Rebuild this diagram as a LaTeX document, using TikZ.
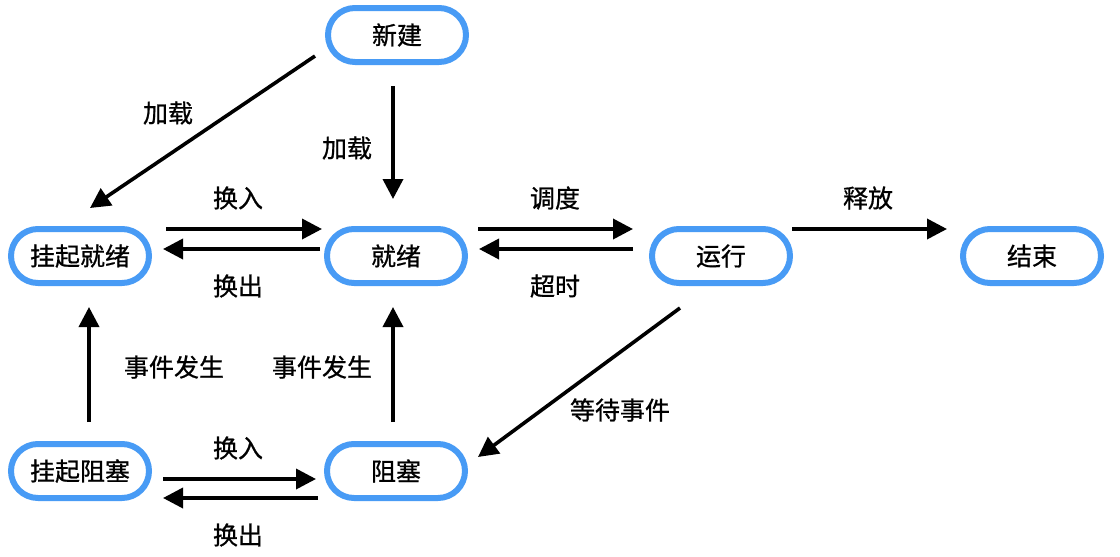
\documentclass[tikz,border=0pt]{standalone}
\usepackage{fontspec}
\newfontfamily\cjk[FakeBold=0.8]{Noto Sans CJK SC}
\usetikzlibrary{arrows.meta}
\definecolor{stateblue}{RGB}{72,155,245}

\begin{document}
\begin{tikzpicture}
  [x=1pt,y=-1pt,
   every node/.style={font=\cjk\fontsize{25}{29}\selectfont},
   state/.style={draw=stateblue,line width=6pt,fill=white,rounded corners=27pt,
                 minimum width=138pt,minimum height=54pt},
   arr/.style={line width=3.6pt,-{Triangle[length=20pt,width=20pt]}}]
  \useasboundingbox (0,0) rectangle (1120,557);

  \node[state] (xj)   at (397,35)  {新建};
  \node[state] (gqjx) at (80,256)  {挂起就绪};
  \node[state] (jx)   at (396,256) {就绪};
  \node[state] (yx)   at (721,256) {运行};
  \node[state] (js)   at (1032,256) {结束};
  \node[state] (gqzs) at (80,471)  {挂起阻塞};
  \node[state] (zs)   at (396,471) {阻塞};

  % labels
  \foreach \n/\t/\x/\y in {l1/加载/168/113, l2/加载/347/148, l3/换入/238/198,
      l4/换出/238/286, l5/调度/555/198, l6/超时/555/286, l7/释放/868/198,
      l8/事件发生/174/367, l9/事件发生/322/367, l10/等待事件/620/410,
      l11/换入/238/448, l12/换出/238/535}
    \node (\n) at (\x,\y) {\t};

  \draw[arr] ([xshift=-4pt,yshift=-21pt]xj.south) -- ([xshift=-3pt,yshift=27pt]jx.north);
  \draw[arr] ([xshift=-10pt,yshift=-21pt]xj.west) -- ([xshift=10pt,yshift=18pt]gqjx.north);
  \draw[arr] ([xshift=14pt,yshift=27pt]gqjx.east) -- ([xshift=-2pt,yshift=27pt]jx.west);
  \draw[arr] ([xshift=-4pt,yshift=7pt]jx.west) -- ([xshift=11pt,yshift=7pt]gqjx.east);
  \draw[arr] ([xshift=10pt,yshift=27pt]jx.east) -- ([xshift=-16pt,yshift=27pt]yx.west);
  \draw[arr] ([xshift=-16pt,yshift=7pt]yx.west) -- ([xshift=11pt,yshift=7pt]jx.east);
  \draw[arr] ([xshift=-1pt,yshift=27pt]yx.east) -- ([xshift=-13pt,yshift=27pt]js.west);
  \draw[arr] ([xshift=9pt,yshift=19pt]gqzs.north) -- ([xshift=9pt,yshift=-21pt]gqjx.south);
  \draw[arr] ([xshift=-3pt,yshift=19pt]zs.north) -- ([xshift=-3pt,yshift=-21pt]jx.south);
  \draw[arr] ([xshift=-41pt,yshift=-22pt]yx.south) -- ([xshift=10pt,yshift=14pt]zs.east);
  \draw[arr] ([xshift=11pt,yshift=-8pt]gqzs.east) -- ([xshift=-8pt,yshift=-8pt]zs.west);
  \draw[arr] ([xshift=-6pt,yshift=-27pt]zs.west) -- ([xshift=11pt,yshift=-27pt]gqzs.east);

\end{tikzpicture}
\end{document}
